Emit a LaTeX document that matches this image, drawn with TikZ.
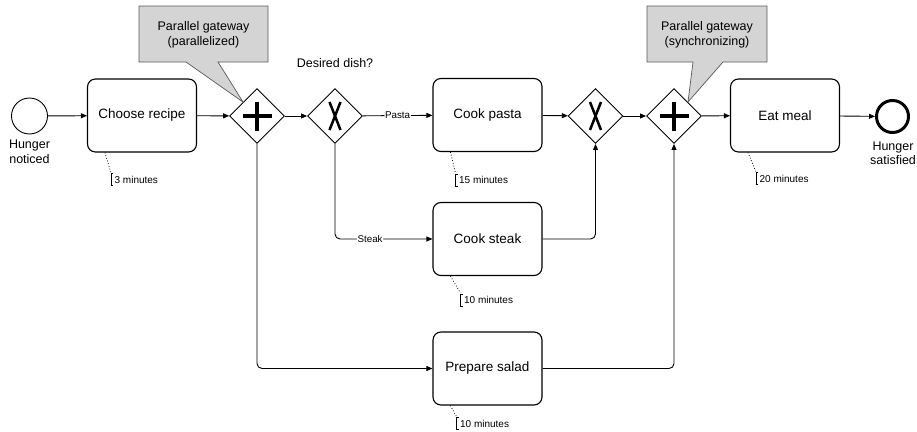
\documentclass[tikz,border=0pt]{standalone}
\usepackage{fontspec}
\setmainfont{Liberation Sans}
\usetikzlibrary{shapes.geometric,arrows.meta,calc}

% dotted association from a task to its duration bracket and text
\newcommand{\durationnote}[4]{%
  \draw[dotted, line width=0.8pt] ($(#1.south west)+(18,0)$) -- ++(#2,#3) coordinate (#1-dur);
  \draw[line width=0.6pt] ($(#1-dur)+(2.5,1)$) -- ++(-2.5,0) -- ++(0,12) -- ++(2.5,0);
  \node[durtext, anchor=west] (#1-durlabel) at ($(#1-dur)+(3.5,7)$) {#4};
}

\begin{document}
\begin{tikzpicture}[x=1pt, y=-1pt,
  task/.style={draw, line width=1.1pt, rounded corners=8pt, minimum width=109pt,
    minimum height=73pt, inner sep=0pt, fill=white, font=\fontsize{13.5}{16}\selectfont},
  gateway/.style={draw, diamond, line width=0.9pt, minimum width=55pt,
    minimum height=55pt, inner sep=0pt, fill=white},
  startev/.style={draw, circle, line width=0.9pt, minimum size=36pt, inner sep=0pt},
  endev/.style={draw, circle, line width=3pt, minimum size=32pt, inner sep=0pt},
  flow/.style={line width=0.9pt, -{Triangle[length=6pt,width=5pt]}, rounded corners=5pt},
  evlabel/.style={align=center, font=\fontsize{12.5}{14.5}\selectfont, inner sep=0pt},
  flowlabel/.style={fill=white, inner sep=0.8pt, font=\fontsize{9.8}{11}\selectfont},
  durtext/.style={inner sep=0pt, font=\fontsize{10}{12}\selectfont},
  callout/.style={draw=black!65, line width=0.7pt, fill=black!17},
  callouttext/.style={align=center, inner sep=0pt, font=\fontsize{12.5}{15.5}\selectfont},
  plusmark/.style={line width=4pt},
  xmark/.style={line width=2.5pt}
]
\useasboundingbox (0,0) rectangle (917,431);

% events, tasks and gateways
\node[startev] (start) at (29.5,116) {};
\node[task] (recipe) at (142,115.5) {Choose recipe};
\node[gateway] (gw1) at (257,116) {};
\node[gateway] (gw2) at (335,116) {};
\node[task] (pasta) at (487.5,115) {Cook pasta};
\node[task] (steak) at (487.5,239) {Cook steak};
\node[task] (salad) at (487.5,368.5) {Prepare salad};
\node[gateway] (gw3) at (595.5,116) {};
\node[gateway] (gw4) at (674,116) {};
\node[task] (eat) at (785,115.5) {Eat meal};
\node[endev] (end) at (892.5,116.5) {};

% gateway markers
\draw[plusmark] ($(gw1)+(-14.5,0)$) -- ($(gw1)+(14.5,0)$);
\draw[plusmark] ($(gw1)+(0,-14.5)$) -- ($(gw1)+(0,14.5)$);
\draw[plusmark] ($(gw4)+(-14.5,0)$) -- ($(gw4)+(14.5,0)$);
\draw[plusmark] ($(gw4)+(0,-14.5)$) -- ($(gw4)+(0,14.5)$);
\draw[xmark] ($(gw2)+(-5.5,-14)$) -- ($(gw2)+(5.5,14)$);
\draw[xmark] ($(gw2)+(5.5,-14)$) -- ($(gw2)+(-5.5,14)$);
\draw[xmark] ($(gw3)+(-5.5,-14)$) -- ($(gw3)+(5.5,14)$);
\draw[xmark] ($(gw3)+(5.5,-14)$) -- ($(gw3)+(-5.5,14)$);

% event and gateway labels
\node[evlabel] (startlabel) at (29.5,152) {Hunger\\noticed};
\node[evlabel] (endlabel) at (893,153.5) {Hunger\\satisfied};
\node[evlabel] (question) at (335,63) {Desired dish?};

% sequence flows
\draw[flow] (start) -- (recipe);
\draw[flow] (recipe) -- (gw1);
\draw[flow] (gw1) -- (gw2);
\draw[flow] (gw2) -- node[flowlabel] (pastalabel) {Pasta} (pasta);
\draw[flow] (gw2.south) |- node[flowlabel, pos=0.68] (steaklabel) {Steak} (steak.west);
\draw[flow] (gw1.south) |- (salad.west);
\draw[flow] (pasta) -- (gw3);
\draw[flow] (steak.east) -| (gw3.south);
\draw[flow] (gw3) -- (gw4);
\draw[flow] (salad.east) -| (gw4.south);
\draw[flow] (gw4) -- (eat);
\draw[flow] (eat) -- (end);

% callouts on the parallel gateways
\draw[callout] (139,6) -- (268,6) -- (268,62) -- (218,62) -- (gw1.north west)
  -- (186,62) -- (139,62) -- cycle;
\node[callouttext] (call1) at (203.5,35) {Parallel gateway\\(parallelized)};
\draw[callout] (647,6) -- (767,6) -- (767,62) -- (723,62) -- (gw4.north east)
  -- (693,62) -- (647,62) -- cycle;
\node[callouttext] (call2) at (707,35) {Parallel gateway\\(synchronizing)};

% task durations
\durationnote{recipe}{6}{20}{3 minutes}
\durationnote{pasta}{5}{21}{15 minutes}
\durationnote{steak}{10}{17}{10 minutes}
\durationnote{eat}{8}{19}{20 minutes}
\durationnote{salad}{6}{11}{10 minutes}
\end{tikzpicture}
\end{document}
